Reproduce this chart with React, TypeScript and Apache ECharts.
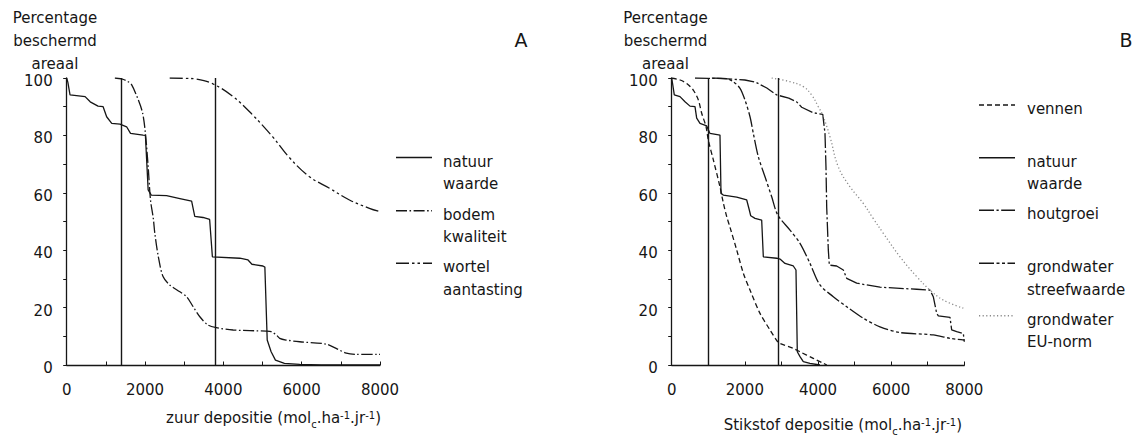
import React, { useEffect, useRef } from "react";
import * as echarts from "echarts";

const FONT = "DejaVu Sans";
const INK = "#161616";

// Panel A – zuur depositie (mol_c/ha/jr) vs percentage beschermd areaal
const natuurA: number[][] = [
  [0, 100], [30, 98.5], [85, 94.1], [470, 93.5], [600, 91.7], [800, 90.2], [930, 90],
  [1020, 86.5], [1150, 84.2], [1360, 83.9], [1530, 83], [1630, 80.7], [1950, 80.1],
  [2010, 80], [2080, 61], [2160, 59.2], [2550, 59], [2890, 58], [3190, 57.1], [3270, 51.8],
  [3480, 51.4], [3650, 50.7], [3720, 37.7], [4420, 37.2], [4630, 36.6], [4730, 35.1],
  [5010, 34.5], [5060, 34.1], [5120, 8.7], [5220, 4.6], [5330, 1.7], [5560, 0.6],
  [5950, 0.2], [6500, 0], [8000, 0],
];
const bodemA: number[][] = [
  [1230, 100], [1400, 99.7], [1560, 98.8], [1660, 97.6], [1830, 92.3], [1940, 87.7],
  [2010, 80.7], [2080, 69.1], [2140, 57.5], [2210, 51.2], [2250, 45.9], [2340, 37.7],
  [2460, 30.8], [2630, 27.9], [2890, 25.5], [3060, 23.8], [3230, 20.3], [3400, 16.8],
  [3610, 13.9], [3820, 13], [4250, 12.2], [5100, 11.8], [5220, 11.6], [5350, 10.5],
  [5440, 9.3], [5600, 8.7], [5950, 8.1], [6620, 7.3], [6880, 5.8], [7140, 4.1],
  [7390, 3.7], [8000, 3.7],
];
const wortelA: number[][] = [
  [2630, 100], [3000, 99.9], [3310, 99.6], [3740, 97.9], [4250, 93.5], [4750, 87.1],
  [5260, 79.5], [5690, 72.2], [6200, 65.6], [6710, 61.6], [7220, 57.5], [7730, 54.6],
  [8000, 53.4],
];
const refLinesA = [1400, 3800];

// Panel B – stikstof depositie (mol_c/ha/jr) vs percentage beschermd areaal
const vennenB: number[][] = [
  [0, 100], [230, 99.3], [410, 98.1], [590, 95.8], [730, 92.3], [820, 87.7], [940, 83],
  [1000, 78.4], [1140, 71.4], [1320, 62.1], [1411, 56.5], [1504, 51.7], [1594, 48],
  [1777, 40.1], [1958, 32], [2141, 26.1], [2414, 18], [2688, 12.2], [2898, 8.1],
  [2961, 7.5], [3325, 5.8], [3508, 4.6], [3871, 2.3], [4145, 0.6], [4240, 0],
];
const natuurB: number[][] = [
  [0, 100], [25, 98], [71, 94.1], [227, 93.5], [364, 91.7], [500, 90.2], [637, 90],
  [683, 86], [774, 84.2], [957, 83.3], [1047, 80.7], [1320, 80.1], [1348, 59.8],
  [1411, 59.2], [1777, 58.5], [2051, 57.5], [2122, 54], [2160, 52], [2278, 51.1],
  [2460, 50.5], [2505, 37.7], [2871, 37.2], [2961, 36.9], [3098, 35.4], [3325, 34.5],
  [3398, 33.1], [3434, 4.6], [3508, 2.9], [3598, 1.2], [3781, 0.6], [4054, 0],
];
const houtgroeiB: number[][] = [
  [637, 100], [1400, 99.8], [2000, 99.3], [2300, 98.5], [2600, 96.5], [2871, 94.1],
  [3200, 93], [3417, 91.7], [3554, 89.8], [3871, 87.9], [4130, 87.3], [4191, 80.7],
  [4218, 69.1], [4238, 55], [4282, 40.1], [4310, 34.8], [4510, 34.5], [4692, 33.1],
  [4785, 30.2], [5058, 28.5], [5695, 27.1], [6698, 26.4], [7062, 26.1], [7152, 23.8],
  [7245, 18], [7290, 17.1], [7609, 16.6], [7655, 12.2], [7792, 11.6], [7973, 11],
  [8000, 8.1],
];
const streefwaardeB: number[][] = [
  [1100, 100], [1500, 99.8], [1685, 98.7], [1868, 96.4], [2004, 92.3], [2141, 86.5],
  [2232, 80.7], [2368, 72.6], [2551, 65.6], [2734, 58.6], [2898, 52.3], [3234, 47],
  [3508, 42.4], [3781, 35.4], [4054, 27.9], [4418, 23.8], [4785, 20.3], [5238, 16.3],
  [5695, 13.3], [6241, 11.3], [7152, 10.5], [7609, 9.3], [8000, 8.7],
];
const euNormB: number[][] = [
  [2734, 100], [3234, 98.7], [3598, 97], [3827, 94.1], [4009, 90], [4145, 86.5],
  [4328, 79.5], [4556, 69], [4875, 62.1], [5238, 56.3], [5512, 51], [5785, 45.9],
  [6241, 37.7], [6698, 30.8], [7062, 26.1], [7426, 22.6], [7973, 19.8],
];
const refLinesB = [1000, 2900];

const X_MIN = 0;
const X_MAX = 8000;
const X_STEP = 2000;
const Y_MIN = 0;
const Y_MAX = 100;
const Y_STEP = 20;

const yTitleLines = ["Percentage", "beschermd", "areaal"];
const xTitleA = "{t|zuur depositie (mol}{sub|c}{t|.ha}{sup|-1}{t|.jr}{sup|-1}{t|)}";
const xTitleB = "{t|Stikstof depositie (mol}{sub|c}{t|.ha}{sup|-1}{t|.jr}{sup|-1}{t|)}";

// dash patterns
const DASH_BODEM = [11, 2.5, 1.6, 2.5];
const DASH_WORTEL = [13, 3, 2.5, 3, 2.5, 3];
const DASH_VENNEN = [5, 3];
const DASH_HOUT = [15, 2.5, 2.2, 2.5];
const DASH_STREEF = [15, 2.5, 3, 2.5, 3, 2.5];
const DASH_EU = [1.2, 2.4];

const legendA = [
  { lines: ["natuur", "waarde"], dash: null as number[] | null, y: 157.5, color: INK },
  { lines: ["bodem", "kwaliteit"], dash: DASH_BODEM, y: 210.7, color: INK },
  { lines: ["wortel", "aantasting"], dash: DASH_WORTEL, y: 263.3, color: INK },
];
const legendB = [
  { lines: ["vennen"], dash: DASH_VENNEN, y: 105, color: INK },
  { lines: ["natuur", "waarde"], dash: null as number[] | null, y: 157.7, color: INK },
  { lines: ["houtgroei"], dash: DASH_HOUT, y: 210.3, color: INK },
  { lines: ["grondwater", "streefwaarde"], dash: DASH_STREEF, y: 263.3, color: INK },
  { lines: ["grondwater", "EU-norm"], dash: DASH_EU, y: 315.7, color: "#8a8a8a" },
];

const GRIDS = [
  { left: 66.7, top: 78, width: 313.3, height: 287 },
  { left: 671.7, top: 78, width: 292.6, height: 287 },
];

function xAxisFor(gridIndex: number) {
  return {
    type: "value",
    gridIndex,
    min: X_MIN,
    max: X_MAX,
    interval: X_STEP,
    axisLine: { show: true, lineStyle: { color: INK, width: 1.3 } },
    axisTick: { show: true, inside: true, length: 3.5, lineStyle: { color: INK, width: 1 } },
    minorTick: { show: true, splitNumber: 2, length: 3.5, lineStyle: { color: INK, width: 1 } },
    splitLine: { show: false },
    axisLabel: {
      color: INK,
      fontFamily: FONT,
      fontSize: 15,
      margin: 17,
      formatter: (v: number) => String(v),
    },
  };
}

function yAxisFor(gridIndex: number) {
  return {
    type: "value",
    gridIndex,
    min: Y_MIN,
    max: Y_MAX,
    interval: Y_STEP,
    axisLine: { show: true, onZero: false, lineStyle: { color: INK, width: 1.3 } },
    axisTick: { show: true, inside: false, length: 3.5, lineStyle: { color: INK, width: 1 } },
    minorTick: { show: true, splitNumber: 2, length: 3.5, lineStyle: { color: INK, width: 1 } },
    splitLine: { show: false },
    axisLabel: {
      color: INK,
      margin: 14,
      formatter: (v: number) => `{v|${v}}`,
      rich: {
        v: { fontFamily: FONT, fontSize: 15, color: INK, lineHeight: 15, padding: [6, 0, 0, 0] },
      },
    },
  };
}

function lineSeries(
  name: string,
  data: number[][],
  idx: number,
  dash: number[] | null,
  opts: { color?: string; smooth?: number; refs?: number[]; width?: number } = {}
) {
  const s: any = {
    name,
    type: "line",
    xAxisIndex: idx,
    yAxisIndex: idx,
    data,
    showSymbol: false,
    symbol: "none",
    smooth: opts.smooth ?? 0,
    lineStyle: {
      color: opts.color ?? INK,
      width: opts.width ?? 1.3,
      type: dash ?? "solid",
    },
    silent: true,
  };
  if (opts.refs) {
    s.markLine = {
      silent: true,
      symbol: ["none", "none"],
      label: { show: false },
      lineStyle: { color: INK, width: 1.4, type: "solid" },
      data: opts.refs.map((v) => ({ xAxis: v })),
    };
  }
  return s;
}

function titleTexts(cx: number) {
  const baselines = [22.7, 46, 69];
  return yTitleLines.map((t, i) => ({
    type: "text",
    style: {
      text: t,
      x: cx,
      y: baselines[i] - 5.2,
      align: "center",
      verticalAlign: "middle",
      fontFamily: FONT,
      fontSize: 15,
      lineHeight: 14,
      fill: INK,
    },
  }));
}

function axisName(text: string, xRight: number, y: number) {
  return {
    type: "text",
    style: {
      text,
      x: xRight,
      y,
      align: "right",
      verticalAlign: "middle",
      rich: {
        t: { fontFamily: FONT, fontSize: 15, fill: INK, lineHeight: 22, verticalAlign: "middle" },
        sub: { fontFamily: FONT, fontSize: 10, fill: INK, lineHeight: 22, verticalAlign: "bottom" },
        sup: { fontFamily: FONT, fontSize: 10, fill: INK, lineHeight: 22, verticalAlign: "top", padding: [3, 0, 0, 0] },
      },
    },
  };
}

function legendGraphics(
  items: { lines: string[]; dash: number[] | null; y: number; color: string }[],
  x1: number,
  x2: number,
  tx: number
) {
  const out: any[] = [];
  items.forEach((it) => {
    out.push({
      type: "line",
      shape: { x1, y1: it.y, x2, y2: it.y },
      style: { stroke: it.color, lineWidth: 1.4, lineDash: it.dash ?? undefined },
    });
    it.lines.forEach((ln, j) => {
      out.push({
        type: "text",
        style: {
          text: ln,
          x: tx,
          y: it.y + 4 + j * 22.2,
          align: "left",
          verticalAlign: "middle",
          fontFamily: FONT,
          fontSize: 15,
          lineHeight: 15,
          fill: INK,
        },
      });
    });
  });
  return out;
}

export default function App() {
  const ref = useRef<HTMLDivElement>(null);

  useEffect(() => {
    if (!ref.current) return;
    const chart = echarts.init(ref.current, undefined, { renderer: "svg" });

    const graphic: any[] = [
      ...titleTexts(55),
      ...titleTexts(665.5),
      {
        type: "text",
        style: { text: "A", x: 521, y: 40, align: "center", verticalAlign: "middle", fontFamily: FONT, fontSize: 19, fill: INK },
      },
      {
        type: "text",
        style: { text: "B", x: 1126, y: 40, align: "center", verticalAlign: "middle", fontFamily: FONT, fontSize: 19, fill: INK },
      },
      axisName(xTitleA, 381, 418),
      axisName(xTitleB, 962, 425),
      ...legendGraphics(legendA, 396, 432, 443),
      ...legendGraphics(legendB, 979, 1015, 1027),
    ];

    chart.setOption({
      animation: false,
      backgroundColor: "#ffffff",
      grid: GRIDS.map((g) => ({ ...g, containLabel: false })),
      xAxis: [xAxisFor(0), xAxisFor(1)],
      yAxis: [yAxisFor(0), yAxisFor(1)],
      series: [
        lineSeries("natuur waarde", natuurA, 0, null, { refs: refLinesA }),
        lineSeries("bodem kwaliteit", bodemA, 0, DASH_BODEM, { smooth: 0.3 }),
        lineSeries("wortel aantasting", wortelA, 0, DASH_WORTEL, { smooth: 0.4 }),
        lineSeries("vennen", vennenB, 1, DASH_VENNEN, { smooth: 0.3 }),
        lineSeries("natuur waarde", natuurB, 1, null, { refs: refLinesB }),
        lineSeries("houtgroei", houtgroeiB, 1, DASH_HOUT),
        lineSeries("grondwater streefwaarde", streefwaardeB, 1, DASH_STREEF, { smooth: 0.3 }),
        lineSeries("grondwater EU-norm", euNormB, 1, DASH_EU, { smooth: 0.4, color: "#8a8a8a" }),
      ],
      graphic,
    });

    return () => chart.dispose();
  }, []);

  return (
    <div
      ref={ref}
      style={{ position: "absolute", left: 0, top: 0, width: 1141, height: 435, background: "#fff" }}
    />
  );
}
